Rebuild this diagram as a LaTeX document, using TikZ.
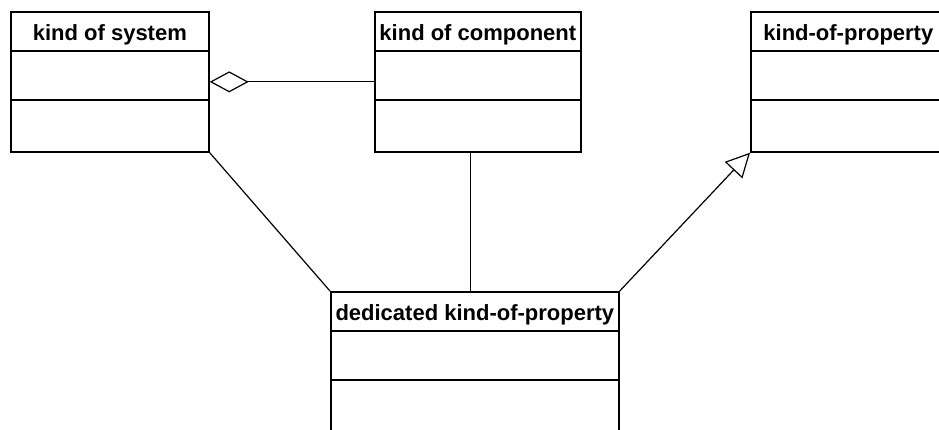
\documentclass[tikz,border=0pt]{standalone}
\usepackage{fontspec}
\setmainfont{Liberation Sans}
\usetikzlibrary{arrows.meta}
\begin{document}
\begin{tikzpicture}[x=1pt,y=-1pt,
  classbox/.style={draw, line width=1.7pt, rectangle, inner sep=0pt, anchor=north west},
  classname/.style={font=\bfseries\fontsize{22}{22}\selectfont, inner sep=0pt, anchor=base},
  compline/.style={line width=1.7pt},
  link/.style={line width=1.2pt}]
\useasboundingbox (0,0) rectangle (939,429);
\begin{scope}
\clip (0,0) rectangle (939,429);
% class boxes
\node[classbox, minimum width=198pt, minimum height=140pt] (sys)  at (10,11)  {};
\node[classbox, minimum width=206pt, minimum height=140pt] (comp) at (374,11) {};
\node[classbox, minimum width=195pt, minimum height=140pt] (prop) at (750,11) {};
\node[classbox, minimum width=288pt, minimum height=160pt] (ded)  at (330,291) {};
% compartments and names
\foreach \c/\t in {sys/kind of system, comp/kind of component, prop/kind-of-property, ded/dedicated kind-of-property}{
  \draw[compline] ([yshift=-40pt]\c.north west) -- ([yshift=-40pt]\c.north east);
  \draw[compline] ([yshift=-89pt]\c.north west) -- ([yshift=-89pt]\c.north east);
  \node[classname] (\c-name) at ([yshift=-29pt]\c.north) {\t};
}
% aggregation
\draw[link, {Diamond[open, length=39pt, width=21pt]}-] (sys.east) -- (comp.west);
% associations
\draw[link] (sys.south east) -- (ded.north west);
\coordinate (dm) at ([xshift=-4pt]ded.north);
\draw[link] (dm) -- (dm |- comp.south);
% generalization
\draw[link, -{Triangle[open, length=24pt, width=24pt]}] (ded.north east) -- (prop.south west);
\end{scope}
\end{tikzpicture}
\end{document}
